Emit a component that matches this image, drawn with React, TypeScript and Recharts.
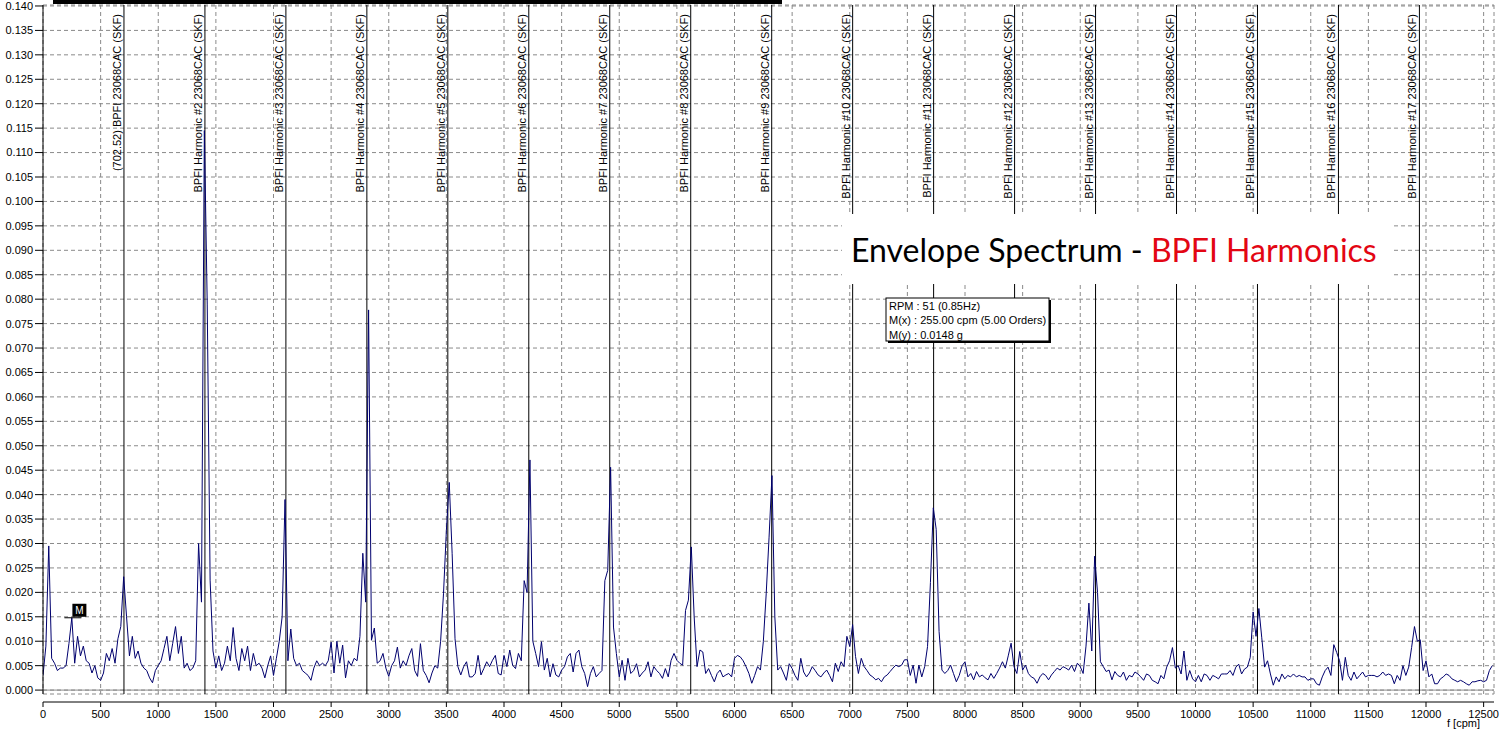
import React from 'react';
import {
  LineChart,
  Line,
  XAxis,
  YAxis,
  CartesianGrid,
  ReferenceLine,
  ReferenceArea,
  ReferenceDot,
} from 'recharts';

const BIN_CPM = 25;

const amplitudeG = [
  0.0030, 0.0090, 0.0295, 0.0065, 0.0055, 0.0040, 0.0045, 0.0045, 0.0050, 0.0095,
  0.0148, 0.0055, 0.0110, 0.0070, 0.0090, 0.0060, 0.0055, 0.0035, 0.0050, 0.0025,
  0.0020, 0.0035, 0.0075, 0.0060, 0.0085, 0.0055, 0.0105, 0.0130, 0.0232, 0.0150,
  0.0070, 0.0110, 0.0065, 0.0080, 0.0055, 0.0045, 0.0040, 0.0025, 0.0015, 0.0040,
  0.0050, 0.0060, 0.0085, 0.0110, 0.0060, 0.0095, 0.0130, 0.0075, 0.0110, 0.0045,
  0.0055, 0.0040, 0.0045, 0.0060, 0.0300, 0.0180, 0.1145, 0.0790, 0.0225, 0.0080,
  0.0045, 0.0070, 0.0040, 0.0055, 0.0090, 0.0060, 0.0128, 0.0065, 0.0040, 0.0085,
  0.0060, 0.0090, 0.0040, 0.0075, 0.0050, 0.0055, 0.0045, 0.0025, 0.0050, 0.0070,
  0.0030, 0.0065, 0.0100, 0.0150, 0.0390, 0.0060, 0.0125, 0.0065, 0.0050, 0.0055,
  0.0040, 0.0035, 0.0030, 0.0020, 0.0045, 0.0060, 0.0050, 0.0055, 0.0050, 0.0060,
  0.0098, 0.0035, 0.0100, 0.0055, 0.0092, 0.0025, 0.0060, 0.0050, 0.0065, 0.0060,
  0.0110, 0.0280, 0.0180, 0.0778, 0.0102, 0.0127, 0.0055, 0.0060, 0.0075, 0.0045,
  0.0028, 0.0050, 0.0060, 0.0088, 0.0045, 0.0060, 0.0050, 0.0070, 0.0085, 0.0040,
  0.0028, 0.0095, 0.0040, 0.0030, 0.0015, 0.0035, 0.0050, 0.0045, 0.0100, 0.0197,
  0.0327, 0.0425, 0.0280, 0.0105, 0.0048, 0.0031, 0.0048, 0.0058, 0.0027, 0.0027,
  0.0034, 0.0071, 0.0031, 0.0044, 0.0058, 0.0048, 0.0061, 0.0071, 0.0034, 0.0031,
  0.0071, 0.0048, 0.0082, 0.0051, 0.0044, 0.0075, 0.0060, 0.0224, 0.0200, 0.0471,
  0.0100, 0.0075, 0.0048, 0.0099, 0.0041, 0.0065, 0.0027, 0.0054, 0.0031, 0.0027,
  0.0041, 0.0048, 0.0068, 0.0075, 0.0037, 0.0075, 0.0082, 0.0048, 0.0034, 0.0007,
  0.0034, 0.0048, 0.0027, 0.0034, 0.0040, 0.0224, 0.0245, 0.0456, 0.0129, 0.0075,
  0.0027, 0.0061, 0.0020, 0.0065, 0.0034, 0.0040, 0.0054, 0.0027, 0.0035, 0.0041,
  0.0058, 0.0027, 0.0048, 0.0040, 0.0034, 0.0024, 0.0044, 0.0027, 0.0061, 0.0075,
  0.0061, 0.0055, 0.0051, 0.0163, 0.0184, 0.0293, 0.0150, 0.0048, 0.0082, 0.0078,
  0.0034, 0.0044, 0.0030, 0.0017, 0.0034, 0.0041, 0.0027, 0.0031, 0.0034, 0.0027,
  0.0065, 0.0071, 0.0068, 0.0060, 0.0048, 0.0034, 0.0014, 0.0030, 0.0048, 0.0041,
  0.0099, 0.0197, 0.0313, 0.0439, 0.0150, 0.0041, 0.0048, 0.0035, 0.0020, 0.0054,
  0.0044, 0.0030, 0.0020, 0.0065, 0.0037, 0.0027, 0.0035, 0.0048, 0.0040, 0.0031,
  0.0027, 0.0035, 0.0041, 0.0030, 0.0017, 0.0055, 0.0038, 0.0058, 0.0048, 0.0110,
  0.0089, 0.0134, 0.0069, 0.0034, 0.0065, 0.0048, 0.0040, 0.0031, 0.0027, 0.0021,
  0.0024, 0.0017, 0.0027, 0.0031, 0.0038, 0.0045, 0.0051, 0.0048, 0.0051, 0.0062,
  0.0062, 0.0030, 0.0051, 0.0014, 0.0051, 0.0027, 0.0048, 0.0089, 0.0220, 0.0373,
  0.0329, 0.0120, 0.0041, 0.0034, 0.0040, 0.0051, 0.0034, 0.0017, 0.0030, 0.0050,
  0.0058, 0.0027, 0.0034, 0.0021, 0.0038, 0.0027, 0.0031, 0.0025, 0.0021, 0.0034,
  0.0024, 0.0034, 0.0045, 0.0058, 0.0045, 0.0070, 0.0096, 0.0048, 0.0034, 0.0079,
  0.0041, 0.0051, 0.0034, 0.0027, 0.0024, 0.0014, 0.0027, 0.0034, 0.0030, 0.0021,
  0.0031, 0.0038, 0.0045, 0.0041, 0.0048, 0.0045, 0.0041, 0.0051, 0.0038, 0.0055,
  0.0048, 0.0034, 0.0090, 0.0178, 0.0080, 0.0274, 0.0200, 0.0058, 0.0048, 0.0038,
  0.0041, 0.0021, 0.0038, 0.0030, 0.0027, 0.0037, 0.0020, 0.0030, 0.0027, 0.0037,
  0.0033, 0.0027, 0.0020, 0.0033, 0.0030, 0.0020, 0.0017, 0.0013, 0.0030, 0.0023,
  0.0047, 0.0060, 0.0087, 0.0045, 0.0050, 0.0033, 0.0080, 0.0020, 0.0040, 0.0023,
  0.0017, 0.0030, 0.0017, 0.0033, 0.0030, 0.0020, 0.0030, 0.0027, 0.0023, 0.0033,
  0.0033, 0.0033, 0.0040, 0.0030, 0.0047, 0.0053, 0.0033, 0.0043, 0.0047, 0.0067,
  0.0160, 0.0110, 0.0167, 0.0107, 0.0047, 0.0060, 0.0033, 0.0010, 0.0027, 0.0017,
  0.0033, 0.0023, 0.0030, 0.0027, 0.0033, 0.0027, 0.0030, 0.0027, 0.0027, 0.0020,
  0.0023, 0.0023, 0.0013, 0.0010, 0.0027, 0.0040, 0.0047, 0.0030, 0.0093, 0.0077,
  0.0060, 0.0020, 0.0067, 0.0030, 0.0020, 0.0037, 0.0023, 0.0030, 0.0037, 0.0027,
  0.0030, 0.0030, 0.0030, 0.0027, 0.0030, 0.0037, 0.0030, 0.0033, 0.0030, 0.0013,
  0.0030, 0.0020, 0.0050, 0.0030, 0.0047, 0.0087, 0.0130, 0.0100, 0.0103, 0.0040,
  0.0060, 0.0027, 0.0033, 0.0013, 0.0013, 0.0023, 0.0027, 0.0033, 0.0030, 0.0023,
  0.0020, 0.0017, 0.0020, 0.0017, 0.0013, 0.0010, 0.0017, 0.0017, 0.0019, 0.0020,
  0.0017, 0.0020, 0.0040, 0.0050,
];

const xTicks = [
  0, 500, 1000, 1500, 2000, 2500, 3000, 3500, 4000, 4500, 5000, 5500, 6000, 6500,
  7000, 7500, 8000, 8500, 9000, 9500, 10000, 10500, 11000, 11500, 12000, 12500,
];

const yTicks = [
  0, 0.005, 0.01, 0.015, 0.02, 0.025, 0.03, 0.035, 0.04, 0.045, 0.05, 0.055, 0.06,
  0.065, 0.07, 0.075, 0.08, 0.085, 0.09, 0.095, 0.1, 0.105, 0.11, 0.115, 0.12,
  0.125, 0.13, 0.135, 0.14,
];

const harmonicCpm = [
  702.52, 1405.04, 2107.56, 2810.08, 3512.6, 4215.12, 4917.64, 5620.16, 6322.68,
  7025.2, 7727.72, 8430.24, 9132.76, 9835.28, 10537.8, 11240.32, 11942.84,
];

const harmonicLabels = [
  '(702.52) BPFI 23068CAC (SKF)',
  'BPFI Harmonic #2 23068CAC (SKF)',
  'BPFI Harmonic #3 23068CAC (SKF)',
  'BPFI Harmonic #4 23068CAC (SKF)',
  'BPFI Harmonic #5 23068CAC (SKF)',
  'BPFI Harmonic #6 23068CAC (SKF)',
  'BPFI Harmonic #7 23068CAC (SKF)',
  'BPFI Harmonic #8 23068CAC (SKF)',
  'BPFI Harmonic #9 23068CAC (SKF)',
  'BPFI Harmonic #10 23068CAC (SKF)',
  'BPFI Harmonic #11 23068CAC (SKF)',
  'BPFI Harmonic #12 23068CAC (SKF)',
  'BPFI Harmonic #13 23068CAC (SKF)',
  'BPFI Harmonic #14 23068CAC (SKF)',
  'BPFI Harmonic #15 23068CAC (SKF)',
  'BPFI Harmonic #16 23068CAC (SKF)',
  'BPFI Harmonic #17 23068CAC (SKF)',
];

const markerCpm = 255;
const markerG = 0.0148;

const infoLines = ['RPM : 51 (0.85Hz)', 'M(x) : 255.00 cpm (5.00 Orders)', 'M(y) : 0.0148 g'];
const titleBlack = 'Envelope Spectrum - ';
const titleRed = 'BPFI Harmonics';
const xAxisTitle = 'f [cpm]';

const data = amplitudeG.map((a, i) => ({ f: i * BIN_CPM, a }));

const FONT = '"Liberation Sans", Arial, sans-serif';
const X_DOMAIN: [number, number] = [0, 12590];
const Y_DOMAIN: [number, number] = [-0.0008, 0.1402];

const HarmonicLabel = (props: any) => {
  const vb = props.viewBox || {};
  const x = (vb.x ?? 0) - 3;
  const y = (vb.y ?? 0) + 9;
  return (
    <text
      x={x}
      y={y}
      transform={`rotate(-90 ${x} ${y})`}
      textAnchor="end"
      fontSize={11}
      fontFamily={FONT}
      fill="#000"
    >
      {props.text}
    </text>
  );
};

const MarkerShape = (props: any) => {
  const { cx, cy } = props;
  return (
    <g>
      <line x1={cx - 8} y1={cy} x2={cx + 9} y2={cy} stroke="#000" strokeWidth={1} />
      <rect x={cx} y={cy - 14} width={14} height={13} fill="#000" />
      <text x={cx + 7} y={cy - 4} textAnchor="middle" fill="#fff" fontSize={10} fontFamily={FONT}>
        M
      </text>
    </g>
  );
};

const AxisTitle = (props: any) => {
  const vb = props.viewBox || {};
  return (
    <text
      x={vb.x + vb.width - 14}
      y={vb.y + vb.height - 7}
      textAnchor="end"
      fontSize={11}
      fontFamily={FONT}
      fill="#000"
    >
      {xAxisTitle}
    </text>
  );
};

export default function App() {
  return (
    <div style={{ position: 'relative', width: 1505, height: 734, fontFamily: FONT, background: '#fff' }}>
      <style>{`body{margin:0;}`}</style>
      <LineChart
        width={1505}
        height={734}
        data={data}
        margin={{ top: 5, right: 11, bottom: 0, left: 0 }}
      >
        <CartesianGrid xAxisId="freq" stroke="#8a8a8a" strokeDasharray="4 3" />
        <XAxis
          xAxisId="frame"
          dataKey="f"
          type="number"
          domain={X_DOMAIN}
          allowDataOverflow
          height={8}
          tick={false}
          tickLine={false}
          axisLine={false}
        />
        <XAxis
          xAxisId="freq"
          dataKey="f"
          type="number"
          domain={X_DOMAIN}
          allowDataOverflow
          ticks={xTicks}
          interval={0}
          height={32}
          tickSize={5}
          tickMargin={3}
          axisLine={{ stroke: '#000' }}
          tickLine={{ stroke: '#000' }}
          tick={{ fontSize: 11, fill: '#000', fontFamily: FONT }}
          label={<AxisTitle />}
        />
        <YAxis
          type="number"
          domain={Y_DOMAIN}
          allowDataOverflow
          ticks={yTicks}
          interval={0}
          width={43}
          tickSize={8}
          tickMargin={2}
          tickFormatter={(v: number) => v.toFixed(3)}
          axisLine={{ stroke: '#000' }}
          tickLine={{ stroke: '#000' }}
          tick={{ fontSize: 11, fill: '#000', fontFamily: FONT }}
        />
        <ReferenceLine xAxisId="freq" y={0} stroke="#8a8a8a" strokeWidth={1} />
        {harmonicCpm.map((f, i) => (
          <ReferenceLine
            key={f}
            xAxisId="freq"
            x={f}
            stroke="#000"
            strokeWidth={1}
            label={<HarmonicLabel text={harmonicLabels[i]} />}
          />
        ))}
        <Line
          xAxisId="freq"
          type="linear"
          dataKey="a"
          stroke="#00006e"
          strokeWidth={1}
          dot={false}
          isAnimationActive={false}
        />
        <ReferenceArea xAxisId="freq" fill="none" stroke="#000" strokeWidth={1} />
        <ReferenceDot
          xAxisId="freq"
          x={markerCpm}
          y={markerG}
          shape={(p: any) => <MarkerShape {...p} />}
        />
      </LineChart>
      <svg
        width={1505}
        height={734}
        style={{ position: 'absolute', left: 0, top: 0, pointerEvents: 'none' }}
      >
        <rect x={53} y={0} width={729} height={4} fill="#000" />
        <rect x={842} y={214} width={552} height={70} fill="#fff" />
        <text x={851} y={262} fontFamily="Lato, 'Open Sans', sans-serif" fontSize={32} style={{ whiteSpace: 'pre' }}>
          <tspan fill="#000">{titleBlack}</tspan>
          <tspan fill="#e30613">{titleRed}</tspan>
        </text>
        <rect x={888} y={300} width={163} height={43} fill="#000" />
        <rect x={886} y={298} width={163} height={43} fill="#fff" stroke="#000" strokeWidth={1} />
        {infoLines.map((t, i) => (
          <text key={t} x={889} y={310 + i * 14.3} fontSize={11} fontFamily={FONT} fill="#000">
            {t}
          </text>
        ))}
      </svg>
    </div>
  );
}
